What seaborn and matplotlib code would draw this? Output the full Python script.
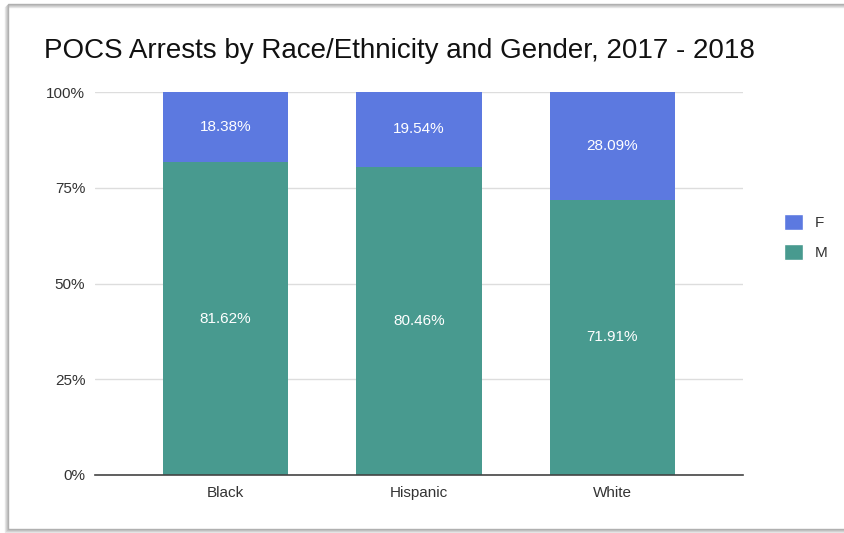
import matplotlib
matplotlib.use("Agg")
import matplotlib.pyplot as plt
from matplotlib.patches import Patch, Rectangle
import seaborn as sns
import pandas as pd

categories = ["Black", "Hispanic", "White"]
female = [18.38, 19.54, 28.09]
male = [81.62, 80.46, 71.91]
yticks = [0, 25, 50, 75, 100]
ytick_labels = ["0%", "25%", "50%", "75%", "100%"]
title = "POCS Arrests by Race/Ethnicity and Gender, 2017 - 2018"

F_COLOR = "#5c79e0"
M_COLOR = "#489a8f"

sns.set_theme(style="white")
plt.rcParams["font.family"] = ["Liberation Sans", "DejaVu Sans"]

df = pd.DataFrame({"cat": categories, "F": female, "M": male})
df["total"] = df["F"] + df["M"]

fig = plt.figure(figsize=(8.44, 5.33), dpi=100)
W, H = 844, 533
ax = fig.add_axes([95 / W, (H - 475) / H, (743 - 95) / W, (475 - 92) / H])

sns.barplot(data=df, x="cat", y="total", color=F_COLOR, saturation=1,
            width=0.647, ax=ax, linewidth=0)
sns.barplot(data=df, x="cat", y="M", color=M_COLOR, saturation=1,
            width=0.647, ax=ax, linewidth=0)

for i, (f, m) in enumerate(zip(female, male)):
    ax.text(i, m / 2, f"{m:.2f}%", ha="center", va="center", color="white", fontsize=11)
    ax.text(i, m + f / 2, f"{f:.2f}%", ha="center", va="center", color="white", fontsize=11)

ax.set_xlim(-0.675, 2.675)
ax.set_ylim(0, 100)
ax.set_yticks(yticks)
ax.set_yticklabels(ytick_labels)
ax.set_xlabel("")
ax.set_ylabel("")
ax.yaxis.grid(True, color="#dddddd", linewidth=1)
ax.set_axisbelow(True)
for s in ["top", "right", "left"]:
    ax.spines[s].set_visible(False)
ax.spines["bottom"].set_color("#444444")
ax.spines["bottom"].set_linewidth(1.2)
ax.spines["bottom"].set_zorder(5)
ax.tick_params(axis="both", length=0, labelsize=11, colors="#333333")
ax.tick_params(axis="y", pad=7)
ax.tick_params(axis="x", pad=8)

fig.text(44 / W, 1 - 51 / H, title, ha="left", va="center", fontsize=20, color="#111111")

handles = [Patch(facecolor=F_COLOR, label="F"), Patch(facecolor=M_COLOR, label="M")]
fig.legend(handles=handles, loc="center left", bbox_to_anchor=(770 / W, 1 - 237 / H),
           frameon=False, handlelength=1.25, handleheight=1.25, handletextpad=0.8,
           labelspacing=0.9, fontsize=11, labelcolor="#333333")

# card border with a soft shadow
for off, col in [(3, "#e8e8e8"), (2, "#d6d6d6"), (1, "#c4c4c4")]:
    fig.patches.append(Rectangle(((8 - off) / W, (4 - off) / H), (900) / W, (525) / H,
                                 transform=fig.transFigure, fill=False,
                                 edgecolor=col, linewidth=1, zorder=0))
fig.patches.append(Rectangle((8 / W, 4 / H), 900 / W, 525 / H, transform=fig.transFigure,
                             fill=False, edgecolor="#b0b0b0", linewidth=1, zorder=0))

fig.savefig("out.png", dpi=100)
